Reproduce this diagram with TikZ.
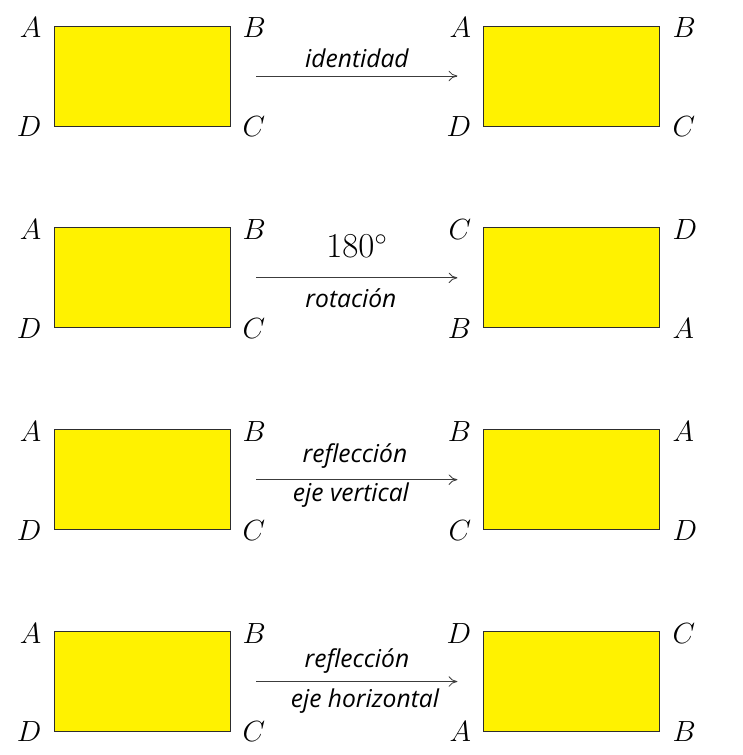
\documentclass[tikz,border=0pt]{standalone}
\usepackage{fontspec}
\setsansfont{Open Sans}
\usepackage{xcolor}
\definecolor{rectyellow}{RGB}{255,242,0}
\definecolor{edgegray}{RGB}{45,45,45}
\definecolor{arrowgray}{RGB}{60,60,60}
\usetikzlibrary{arrows.meta,positioning}

\begin{document}
\begin{tikzpicture}[
  node distance=0.3cm,
  box/.style={
    draw=edgegray, fill=rectyellow, line width=0.6pt,
    minimum width=4.4cm, minimum height=2.5cm, inner sep=0pt
  },
  corner/.style={inner sep=0pt, font=\fontsize{22}{26}\selectfont},
  lbl/.style={inner sep=0pt, anchor=base, font=\sffamily\itshape\fontsize{17.5}{21}\selectfont},
  deg/.style={inner sep=0pt, anchor=base, font=\fontsize{23}{27}\selectfont},
  arrow/.style={-{To[length=2.2mm,width=2.6mm]}, line width=0.6pt, draw=arrowgray,
    shorten <=0.65cm, shorten >=0.65cm}
]
\useasboundingbox (0,0) rectangle (18.55,18.875);

% rectangles
\node[box] (l1) at (3.55,16.975) {};
\node[box, right=6.325cm of l1] (r1) {};
\node[box, below=2.525cm of l1] (l2) {};
\node[box, right=6.325cm of l2] (r2) {};
\node[box, below=2.525cm of l2] (l3) {};
\node[box, right=6.325cm of l3] (r3) {};
\node[box, below=2.525cm of l3] (l4) {};
\node[box, right=6.325cm of l4] (r4) {};

% identidad
\node[corner, left=0.3cm of l1.north west, yshift=-1.5pt] (l1a) {$A$};
\node[corner, right=0.3cm of l1.north east, yshift=-1.5pt] (l1b) {$B$};
\node[corner, right=0.3cm of l1.south east] (l1c) {$C$};
\node[corner, left=0.3cm of l1.south west] (l1d) {$D$};
\node[corner, left=0.3cm of r1.north west, yshift=-1.5pt] (r1a) {$A$};
\node[corner, right=0.3cm of r1.north east, yshift=-1.5pt] (r1b) {$B$};
\node[corner, right=0.3cm of r1.south east] (r1c) {$C$};
\node[corner, left=0.3cm of r1.south west] (r1d) {$D$};
\draw[arrow] (l1.east) -- node[lbl, yshift=0.21cm] (t1) {identidad} (r1.west);

% rotacion
\node[corner, left=0.3cm of l2.north west, yshift=-1.5pt] (l2a) {$A$};
\node[corner, right=0.3cm of l2.north east, yshift=-1.5pt] (l2b) {$B$};
\node[corner, right=0.3cm of l2.south east] (l2c) {$C$};
\node[corner, left=0.3cm of l2.south west] (l2d) {$D$};
\node[corner, left=0.3cm of r2.north west, yshift=-1.5pt] (r2c) {$C$};
\node[corner, right=0.3cm of r2.north east, yshift=-1.5pt] (r2d) {$D$};
\node[corner, right=0.3cm of r2.south east] (r2a) {$A$};
\node[corner, left=0.3cm of r2.south west] (r2b) {$B$};
\draw[arrow] (l2.east) -- node[deg, yshift=0.5cm] (t2) {$180^\circ$}
  node[lbl, yshift=-0.75cm, xshift=-0.15cm] (b2) {rotación} (r2.west);

% reflexion vertical
\node[corner, left=0.3cm of l3.north west, yshift=-1.5pt] (l3a) {$A$};
\node[corner, right=0.3cm of l3.north east, yshift=-1.5pt] (l3b) {$B$};
\node[corner, right=0.3cm of l3.south east] (l3c) {$C$};
\node[corner, left=0.3cm of l3.south west] (l3d) {$D$};
\node[corner, left=0.3cm of r3.north west, yshift=-1.5pt] (r3b) {$B$};
\node[corner, right=0.3cm of r3.north east, yshift=-1.5pt] (r3a) {$A$};
\node[corner, right=0.3cm of r3.south east] (r3d) {$D$};
\node[corner, left=0.3cm of r3.south west] (r3c) {$C$};
\draw[arrow] (l3.east) -- node[lbl, yshift=0.42cm, xshift=-0.05cm] (t3) {reflección}
  node[lbl, yshift=-0.55cm, xshift=-0.15cm] (b3) {eje vertical} (r3.west);

% reflexion horizontal
\node[corner, left=0.3cm of l4.north west, yshift=-1.5pt] (l4a) {$A$};
\node[corner, right=0.3cm of l4.north east, yshift=-1.5pt] (l4b) {$B$};
\node[corner, right=0.3cm of l4.south east] (l4c) {$C$};
\node[corner, left=0.3cm of l4.south west] (l4d) {$D$};
\node[corner, left=0.3cm of r4.north west, yshift=-1.5pt] (r4d) {$D$};
\node[corner, right=0.3cm of r4.north east, yshift=-1.5pt] (r4c) {$C$};
\node[corner, right=0.3cm of r4.south east] (r4b) {$B$};
\node[corner, left=0.3cm of r4.south west] (r4a) {$A$};
\draw[arrow] (l4.east) -- node[lbl, yshift=0.36cm] (t4) {reflección}
  node[lbl, yshift=-0.66cm, xshift=0.2cm] (b4) {eje horizontal} (r4.west);
\end{tikzpicture}
\end{document}
